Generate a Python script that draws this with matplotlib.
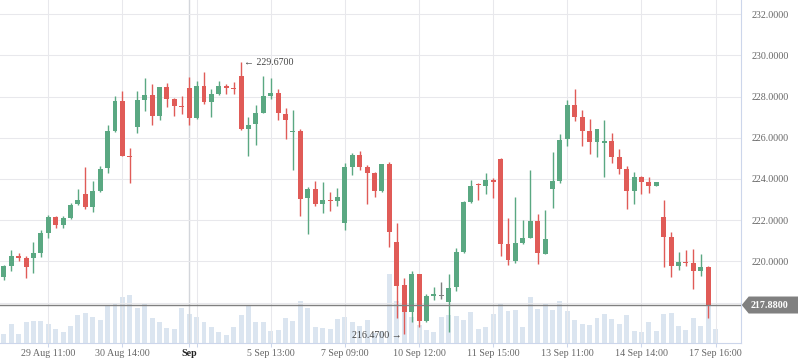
import numpy as np
import matplotlib.pyplot as plt
from matplotlib.patches import Polygon
from matplotlib.transforms import IdentityTransform

plt.rcParams['font.family'] = ['Liberation Serif', 'DejaVu Serif']

# hourly OHLC, 29 Aug - 17 Sep
opens = [219.26, 219.79, 220.26, 220.16, 220.16, 220.42, 221.39, 222.15, 221.78, 222.12,
         222.78, 223.27, 222.65, 223.43, 224.55, 226.34, 227.78, 225.13, 226.54, 227.85,
         228.07, 227.07, 228.46, 227.88, 227.56, 228.41, 226.97, 228.51, 227.75, 228.14,
         228.51, 228.43, 228.99, 226.44, 226.68, 227.22, 228.04, 228.17, 227.15, 226.26,
         226.33, 223.09, 223.51, 222.80, 222.99, 222.94, 221.88, 224.60, 225.16, 224.58,
         224.29, 223.40, 224.72, 220.94, 218.83, 217.56, 219.39, 217.12, 218.33, 218.35,
         218.04, 218.77, 220.47, 222.88, 223.74, 223.67, 223.95, 224.97, 220.84, 220.03,
         220.89, 221.13, 221.96, 220.37, 223.53, 223.92, 225.95, 227.59, 227.01, 226.33,
         225.81, 225.76, 225.84, 225.06, 224.48, 223.43, 224.09, 223.85, 223.67, 222.15,
         221.18, 219.79, 219.98, 219.92, 219.55, 219.72, 217.88]
highs = [219.82, 220.55, 220.40, 220.26, 220.94, 221.52, 222.25, 222.20, 222.20, 222.83,
         223.51, 224.58, 223.90, 224.63, 226.62, 228.03, 228.27, 225.50, 228.27, 228.90,
         228.61, 228.48, 228.66, 227.93, 228.03, 228.95, 228.75, 229.19, 228.37, 228.75,
         228.61, 228.71, 229.67, 227.01, 227.59, 228.99, 228.90, 228.37, 227.44, 227.35,
         226.42, 223.61, 223.90, 223.85, 223.37, 223.56, 224.77, 225.26, 225.36, 224.68,
         224.34, 224.74, 224.82, 221.86, 219.21, 219.55, 219.40, 218.41, 218.75, 218.98,
         219.39, 220.65, 222.93, 223.95, 223.80, 224.29, 224.05, 225.02, 222.10, 223.12,
         222.01, 224.43, 222.30, 222.49, 225.31, 226.18, 227.83, 228.37, 227.35, 226.91,
         226.43, 226.86, 226.23, 225.45, 224.63, 224.34, 224.14, 224.09, 223.85, 222.98,
         221.42, 220.45, 220.55, 220.60, 220.36, 219.77, 217.88]
lows = [219.11, 219.55, 220.03, 219.21, 219.45, 220.21, 221.15, 221.62, 221.63, 222.07,
        222.73, 222.56, 222.41, 223.38, 224.30, 226.29, 225.10, 223.82, 226.25, 227.31,
        226.63, 226.88, 227.51, 227.07, 227.17, 226.63, 226.93, 227.65, 227.02, 228.09,
        228.14, 228.14, 226.39, 225.13, 225.66, 227.20, 227.90, 226.88, 225.95, 224.45,
        222.22, 221.34, 222.70, 222.36, 222.46, 222.70, 221.54, 224.21, 224.45, 222.80,
        223.14, 223.35, 220.71, 217.27, 216.47, 217.07, 216.83, 217.07, 218.14, 218.19,
        216.59, 218.58, 220.42, 222.83, 222.99, 223.28, 223.09, 220.28, 219.84, 219.94,
        220.86, 221.12, 219.89, 220.36, 222.61, 223.82, 225.61, 226.83, 225.61, 225.23,
        225.08, 224.11, 224.79, 224.24, 222.56, 222.80, 223.28, 223.33, 223.67, 219.74,
        219.26, 219.60, 219.79, 218.67, 219.30, 217.27, 217.88]
closes = [219.77, 220.26, 220.18, 219.74, 220.40, 221.38, 222.15, 221.76, 222.10, 222.73,
          222.98, 222.65, 223.41, 224.48, 226.33, 227.78, 225.13, 225.06, 227.83, 228.07,
          227.07, 228.46, 227.90, 227.56, 227.49, 226.97, 228.51, 227.75, 228.12, 228.51,
          228.43, 228.37, 226.44, 226.60, 227.20, 228.03, 228.17, 227.22, 226.88, 226.33,
          223.04, 223.51, 222.80, 222.98, 222.93, 223.12, 224.58, 225.16, 224.60, 224.30,
          223.43, 224.72, 221.44, 218.82, 217.56, 219.39, 217.12, 218.32, 218.40, 218.35,
          218.71, 220.45, 222.88, 223.66, 223.69, 223.95, 223.87, 220.86, 220.08, 220.89,
          221.13, 221.96, 220.42, 221.08, 223.90, 225.89, 227.59, 227.02, 226.34, 225.81,
          226.42, 225.84, 225.08, 224.50, 223.43, 224.09, 223.87, 223.67, 223.85, 221.20,
          219.79, 219.95, 219.92, 219.55, 219.72, 217.88, 217.88]
volume = [8.7, 18.7, 8.7, 20.7, 21.7, 21.7, 18.7, 13.7, 10.7, 16.7,
          27.7, 29.7, 25.7, 22.7, 36.7, 38.7, 45.7, 47.7, 34.7, 38.7,
          24.7, 20.7, 14.7, 13.7, 34.7, 28.7, 25.7, 20.7, 15.7, 10.7,
          7.7, 15.7, 27.7, 37.7, 20.7, 20.7, 11.7, 12.7, 24.7, 21.7,
          41.7, 34.7, 15.7, 14.7, 13.7, 23.7, 25.7, 20.7, 16.7, 22.7,
          10.0, 12.0, 68.7, 41.3, 40.7, 25.7, 18.0, 12.7, 10.7, 25.7,
          27.7, 26.7, 22.7, 30.7, 13.7, 15.7, 28.7, 39.7, 31.7, 32.7,
          15.7, 45.7, 33.7, 39.7, 32.7, 41.7, 31.7, 22.7, 18.7, 17.7,
          24.7, 28.7, 23.7, 18.7, 27.7, 11.7, 10.7, 20.7, 11.7, 28.7,
          29.7, 16.7, 12.7, 24.7, 16.7, 38.3, 13.7]

tick_pos = [6, 16, 26, 36, 46, 56, 66, 76, 86, 96]
tick_labels = ['29 Aug 11:00', '30 Aug 14:00', '', '5 Sep 13:00', '7 Sep 09:00',
               '10 Sep 12:00', '11 Sep 15:00', '13 Sep 11:00', '14 Sep 14:00', '17 Sep 16:00']
month_pos = 25

up_col = '#5aa882'
down_col = '#e05b57'
flat_col = '#7f7f7f'
grid_col = '#e8e8ec'
axis_col = '#ccd6eb'
label_col = '#666666'

fig = plt.figure(figsize=(7.98, 3.63), dpi=100)
ax = fig.add_axes([0, 20.5 / 363, 740.7 / 798, 342.5 / 363])
axv = ax.twinx()

x = np.arange(len(opens))

# volume in the background
axv.bar(x, volume, width=0.67, color='#dbe5f0', linewidth=0)
axv.set_ylim(0, 342.5)
axv.set_yticks([])
for s in axv.spines.values():
    s.set_visible(False)

ax.set_zorder(axv.get_zorder() + 1)
ax.patch.set_visible(False)

# candles
for i in x:
    o, h, l, c = opens[i], highs[i], lows[i], closes[i]
    if c > o:
        col = up_col
    elif c < o:
        col = down_col
    else:
        col = flat_col
    if h > l:
        ax.vlines(i, l, h, color=col, lw=1.0, zorder=3)
    ax.bar(i, max(abs(c - o), 0.05), bottom=min(o, c) - (0.025 if c == o else 0),
           width=0.67, color=col, linewidth=0, zorder=4)

ax.set_xlim(-0.51, 99.38)
ax.set_ylim(216.06, 232.69)

# last price line
last = closes[-1]
ax.axhline(last, color='#808080', lw=1.0, zorder=5)

# month separator
ax.axvline(month_pos, color='#d3d6db', lw=1.0, zorder=1)

# high / low flags
hi = int(np.argmax(highs))
lo = int(np.argmin(lows))
ax.annotate('\u2190 %.4f' % highs[hi], xy=(hi, highs[hi]), xytext=(2, 0),
            textcoords='offset points', ha='left', va='center', fontsize=7.2, color='#444444')
ax.annotate('%.4f \u2192' % lows[lo], xy=(lo, lows[lo]), xytext=(-2, -1),
            textcoords='offset points', ha='right', va='center', fontsize=7.2, color='#444444')

# axes styling
ax.yaxis.tick_right()
yt = np.arange(218, 233, 2)
ax.set_yticks(yt)
ax.set_yticklabels(['' if v == 218 else '%.4f' % v for v in yt])
ax.tick_params(axis='y', length=0, pad=7.5, labelsize=7.2, labelcolor=label_col)

ax.set_xticks(tick_pos)
ax.set_xticklabels(tick_labels)
ax.set_xticks([month_pos], ['Sep'], minor=True)
ax.tick_params(axis='x', which='both', length=3, width=0.75, color=axis_col, pad=2,
               labelsize=7.2, labelcolor=label_col)
for t in ax.get_xticklabels(minor=True):
    t.set_color('#222222')
    t.set_fontweight('bold')

ax.grid(True, which='major', color=grid_col, lw=0.75, zorder=0)
ax.spines['top'].set_visible(False)
ax.spines['left'].set_visible(False)
ax.spines['right'].set_color(axis_col)
ax.spines['bottom'].set_color(axis_col)

# last price tag on the right axis
yd = ax.transData.transform((0, last))[1]
xa = ax.transAxes.transform((1, 0))[0]
tag = Polygon([(xa + 1, yd), (xa + 8, yd + 8.5), (798, yd + 8.5), (798, yd - 8.5), (xa + 8, yd - 8.5)],
              closed=True, transform=IdentityTransform(), fc='#808080', ec='none')
fig.add_artist(tag)
fig.text(xa + 10, yd, '%.4f' % last, transform=IdentityTransform(), ha='left', va='center',
         fontsize=7.2, color='white', fontweight='bold')

fig.savefig('out.png', dpi=100)
